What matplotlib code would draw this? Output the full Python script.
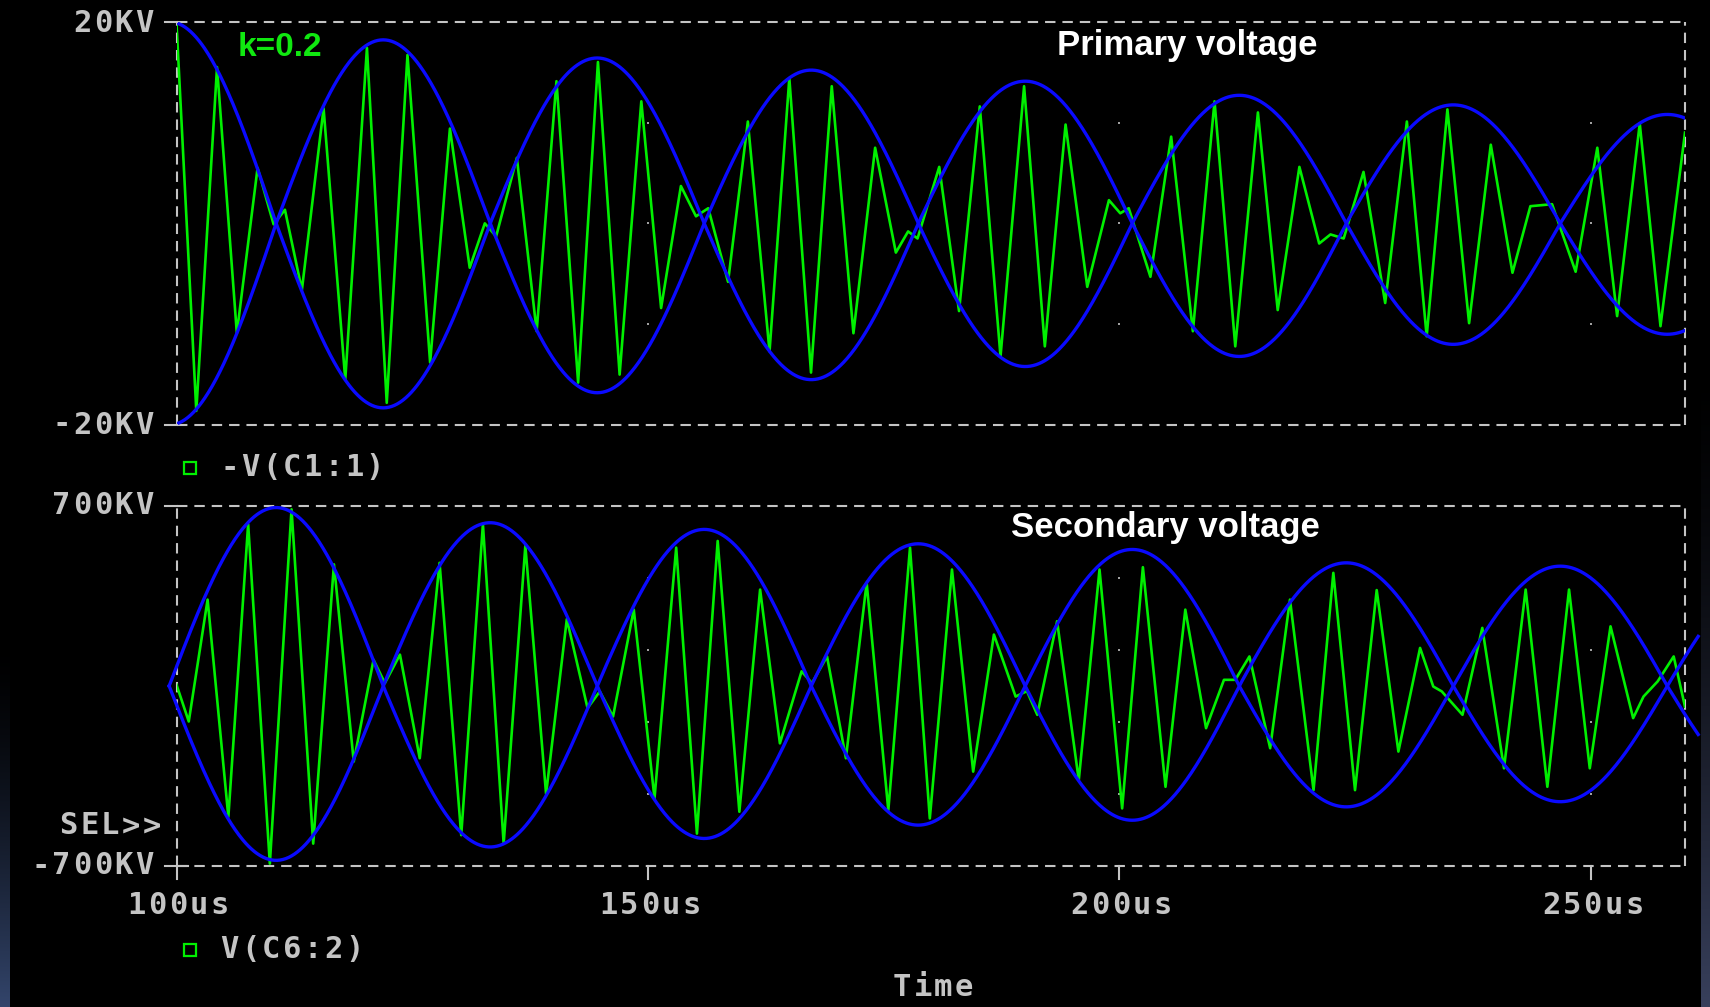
import numpy as np
import matplotlib
matplotlib.use("Agg")
import matplotlib.pyplot as plt
from matplotlib.lines import Line2D

plt.rcParams['lines.scale_dashes'] = False

# ---------------- data ----------------
# Primary voltage -V(C1:1), extrema of the trace (time in us, value in kV)
prim_t = [100.0, 102.1, 104.3, 106.4, 108.6, 110.3, 111.5, 113.3, 115.6, 117.9,
          120.2, 122.3, 124.5, 126.9, 129.0, 131.1, 132.7, 133.9, 136.1, 138.2,
          140.3, 142.6, 144.7, 147.0, 149.3, 151.4, 153.5, 155.1, 156.4, 158.5,
          160.6, 162.9, 165.0, 167.3, 169.5, 171.8, 174.1, 176.3, 177.6, 178.6,
          180.9, 183.0, 185.2, 187.4, 189.9, 192.1, 194.3, 196.6, 198.9, 200.1,
          201.0, 203.3, 205.5, 207.8, 210.1, 212.3, 214.7, 216.8, 219.1, 221.2,
          222.4, 223.8, 225.9, 228.2, 230.5, 232.6, 234.8, 237.1, 239.4, 241.7,
          243.6, 245.9, 248.4, 250.7, 252.8, 255.2, 257.4, 260.0]
prim_v = [19.8, -18.6, 15.5, -10.9, 5.5, -0.1, 1.35, -6.6, 11.4, -15.5,
          17.4, -17.8, 16.7, -13.8, 9.4, -4.4, 0.0, -1.3, 6.5, -10.7,
          14.1, -15.8, 16.0, -15.0, 12.1, -8.4, 3.7, 0.7, 1.5, -5.8,
          10.1, -12.7, 14.4, -14.8, 13.6, -10.9, 7.5, -2.9, -0.8, -1.5,
          5.6, -8.7, 11.6, -13.2, 13.6, -12.2, 9.8, -6.3, 2.3, 1.0,
          1.5, -5.3, 8.6, -10.7, 12.1, -12.2, 11.0, -8.6, 5.6, -2.0,
          -1.1, -1.5, 5.1, -7.9, 10.1, -11.2, 11.3, -9.9, 7.8, -4.9,
          1.7, 1.9, -4.8, 7.5, -9.2, 9.9, -10.2, 9.0]

# Secondary voltage V(C6:2), extrema of the trace (time in us, value in kV)
sec_t = [100.0, 101.3, 103.3, 105.5, 107.6, 109.9, 112.2, 114.5, 116.7, 118.8,
         120.9, 122.1, 123.7, 125.8, 127.9, 130.2, 132.5, 134.7, 137.0, 139.2,
         141.4, 143.6, 144.9, 146.3, 148.5, 150.7, 153.0, 155.2, 157.4, 159.7,
         161.9, 164.0, 166.3, 167.4, 169.0, 171.0, 173.2, 175.5, 177.8, 179.9,
         182.25, 184.5, 186.7, 189.0, 190.2, 191.3, 193.4, 195.7, 197.9, 200.3,
         202.5, 204.9, 207.0, 209.2, 211.1, 212.3, 213.8, 216.0, 218.1, 220.6,
         222.7, 225.0, 227.3, 229.6, 231.9, 233.3, 234.2, 236.4, 238.5, 240.8,
         243.1, 245.4, 247.7, 249.9, 252.1, 254.5, 255.6, 257.1, 258.8, 260.0]
sec_v = [5, -138, 336, -509, 629, -691, 687, -613, 473, -294,
         102, 11, 122, -281, 479, -580, 629, -613, 545, -420,
         260, -86, -21, -119, 297, -437, 538, -574, 564, -489,
         375, -223, 57, 11, 115, -281, 401, -483, 538, -515,
         453, -333, 200, -41, -20, -112, 252, -366, 453, -476,
         462, -392, 297, -164, 24, 24, 115, -242, 336, -405,
         440, -405, 373, -255, 148, -2, -21, -112, 226, -320,
         375, -392, 375, -320, 232, -125, -41, 18, 115, -80]

# Hand-drawn envelopes: lobe centres (us) and lobe heights (kV)
lobe_half_period = 22.7
prim_centers = [99.22, 121.92, 144.62, 167.32, 190.02, 212.72, 235.42, 258.12]
prim_upper = [20.0, 18.2, 16.4, 15.2, 14.1, 12.7, 11.75, 10.8]
prim_lower = [20.0, 18.3, 16.8, 15.5, 14.2, 13.2, 12.0, 11.0]
sec_centers = [110.57, 133.27, 155.97, 178.67, 201.37, 224.07, 246.77, 269.47]
sec_upper = [694, 635, 609, 553, 531, 479, 466, 440]
sec_lower = [678, 626, 593, 541, 522, 470, 450, 430]

x_ticks = [100, 150, 200, 250]
x_tick_labels = ["100us", "150us", "200us", "250us"]
prim_ylim = (-20, 20)
prim_ytick_labels = ["-20KV", "20KV"]
sec_ylim = (-700, 700)
sec_ytick_labels = ["-700KV", "700KV"]
prim_grid_y = [-10, 0, 10]
sec_grid_y = [-420, -140, 140, 420]

# ---------------- figure ----------------
W, H = 1710, 1007
fig = plt.figure(figsize=(W / 100, H / 100), dpi=100, facecolor='black')

def fxp(x):
    return x / W

def fyp(y):
    return 1 - y / H

GRAY = '#c4c4c4'
GREEN = '#00f000'
BLUE = '#0a0aff'

# faint desktop strips at the edges of the screenshot
grad = np.linspace(0, 1, 256)[:, None] ** 1.5
axl = fig.add_axes([0, 0, 9 / W, (H - 640) / H])
colors_l = np.zeros((256, 1, 3))
colors_l[..., 0] = 0.20 * grad
colors_l[..., 1] = 0.27 * grad
colors_l[..., 2] = 0.42 * grad
axl.imshow(colors_l, aspect='auto', origin='upper', extent=[0, 1, 0, 1])
axl.set_axis_off()
axr = fig.add_axes([(W - 9) / W, 0, 9 / W, (H - 360) / H])
colors_r = np.zeros((256, 1, 3))
colors_r[..., 0] = 0.22 * grad
colors_r[..., 1] = 0.25 * grad
colors_r[..., 2] = 0.36 * grad
axr.imshow(colors_r, aspect='auto', origin='upper', extent=[0, 1, 0, 1])
axr.set_axis_off()

L, R = 176.5, 1685.0
ax1 = fig.add_axes([fxp(L), fyp(425), (R - L) / W, (425 - 21.7) / H])
ax2 = fig.add_axes([fxp(L), fyp(866), (R - L) / W, (866 - 506) / H])

def envelope(t, centers, upper, lower, hp):
    t = np.asarray(t)
    c = np.asarray(centers)
    k = np.argmin(np.abs(t[:, None] - c[None, :]), axis=1)
    shape = np.cos(np.pi * (t - c[k]) / hp)
    up = np.asarray(upper)[k]
    lo = np.asarray(lower)[k]
    even = (k % 2 == 0)
    a = np.where(even, up, -lo) * shape
    b = np.where(even, -lo, up) * shape
    return a, b

for ax, ylim in ((ax1, prim_ylim), (ax2, sec_ylim)):
    ax.set_facecolor('black')
    ax.set_xlim(100, 260)
    ax.set_ylim(*ylim)
    ax.set_axis_off()
    for xs, ys in (([0, 1], [1, 1]), ([0, 1], [0, 0]), ([0, 0], [0, 1]), ([1, 1], [0, 1])):
        ax.add_line(Line2D(xs, ys, transform=ax.transAxes, color=GRAY, lw=1.5,
                           dashes=(7.5, 5), clip_on=False, zorder=1))

# grid dots
gx = x_ticks[1:]
ax1.plot(np.repeat(gx, len(prim_grid_y)), np.tile(prim_grid_y, len(gx)), 's',
         ms=1.6, color='#a0a0a0', mew=0, zorder=1)
ax2.plot(np.repeat(gx, len(sec_grid_y)), np.tile(sec_grid_y, len(gx)), 's',
         ms=1.6, color='#a0a0a0', mew=0, zorder=1)

# traces
ax1.plot(prim_t, prim_v, color=GREEN, lw=1.9, zorder=3)
ax2.plot(sec_t, sec_v, color=GREEN, lw=1.9, zorder=3)

tp = np.linspace(100, 260, 1600)
pa, pb = envelope(tp, prim_centers, prim_upper, prim_lower, lobe_half_period)
ax1.plot(tp, pa, color=BLUE, lw=2.4, zorder=4)
ax1.plot(tp, pb, color=BLUE, lw=2.4, zorder=4)

ts = np.linspace(prim_centers[0], 261.4, 1600)
sa, sb = envelope(ts, sec_centers, sec_upper, sec_lower, lobe_half_period)
ax2.plot(ts, sa, color=BLUE, lw=2.4, zorder=4, clip_on=False)
ax2.plot(ts, sb, color=BLUE, lw=2.4, zorder=4, clip_on=False)

# ticks (drawn in figure pixels)
def seg(x0, y0, x1, y1):
    fig.add_artist(Line2D([fxp(x0), fxp(x1)], [fyp(y0), fyp(y1)],
                          transform=fig.transFigure, color=GRAY, lw=1.5))

for y in (21.7, 425, 506, 866):
    seg(165, y, L, y)
px_per_us = (R - L) / 160.0
for xt in x_ticks:
    xp = L + (xt - 100) * px_per_us
    seg(xp, 866, xp, 879)
seg(L, 866, L + 11, 866)

# fixed-pitch text, mimicking the probe window's bitmap font
PITCH = 20.8
mono = dict(family='DejaVu Sans Mono', fontweight='bold', color=GRAY, fontsize=22)

def mtext(x, y, s, align='left'):
    n = len(s)
    if align == 'right':
        x0 = x - n * PITCH
    elif align == 'center':
        x0 = x - n * PITCH / 2
    else:
        x0 = x
    for i, ch in enumerate(s):
        fig.text(fxp(x0 + (i + 0.5) * PITCH), fyp(y), ch, ha='center', va='center', **mono)

def ftext(x, y, s, ha='left', va='center', **kw):
    fig.text(fxp(x), fyp(y), s, ha=ha, va=va, **kw)

mtext(155, 23, prim_ytick_labels[1], 'right')
mtext(155, 425, prim_ytick_labels[0], 'right')
mtext(155, 506, sec_ytick_labels[1], 'right')
mtext(155, 866, sec_ytick_labels[0], 'right')
mtext(162, 826, "SEL>>", 'right')
for xt, lab in zip(x_ticks, x_tick_labels):
    mtext(L + (xt - 100) * px_per_us + 2, 906, lab, 'center')
mtext(933, 987, "Time", 'center')

# legends
for (yy, lab) in ((468, "-V(C1:1)"), (950, "V(C6:2)")):
    fig.add_artist(Line2D([fxp(190)], [fyp(yy)], transform=fig.transFigure,
                          marker='s', ms=8.5, mfc='none', mec=GREEN, mew=1.6, ls='none'))
    mtext(219, yy, lab)

# annotations
ftext(238, 47, "k=0.2", family='Liberation Sans', fontweight='bold',
      color='#10e810', fontsize=24)
ftext(1187, 46, "Primary voltage", ha='center', family='Liberation Sans',
      fontweight='bold', color='white', fontsize=25)
ftext(1165, 528, "Secondary voltage", ha='center', family='Liberation Sans',
      fontweight='bold', color='white', fontsize=25)

fig.savefig("out.png", dpi=100, facecolor='black')
